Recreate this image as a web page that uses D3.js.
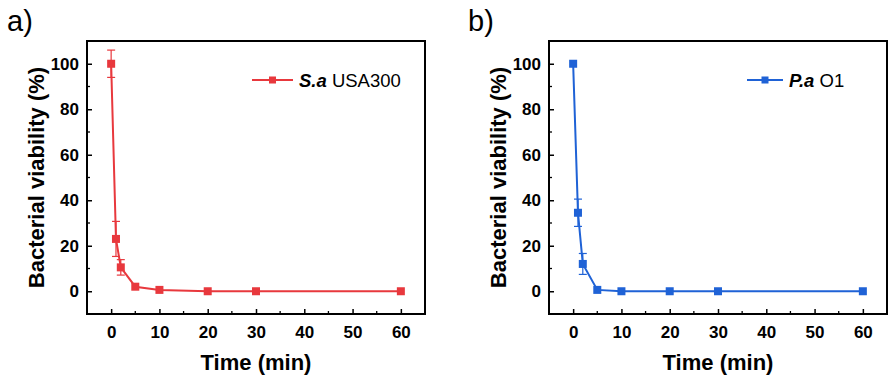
<!DOCTYPE html>
<html lang="en">
<head>
<meta charset="UTF-8">
<title>Bacterial viability vs time</title>
<style>
    body { margin: 0; background: #fff; }
    svg { display: block; font-family: "Liberation Sans", Arial, sans-serif; }
</style>
</head>
<body>
<svg width="894" height="377"></svg>
<script src="https://d3js.org/d3.v7.min.js"></script>
<script>
// time points (min)
const times = [0, 1, 2, 5, 10, 20, 30, 60];

// S. aureus USA300
const saValues = [100, 23, 10.5, 2, 0.6, 0, 0, 0];
const saErrors = [6, 7.7, 3.4, 0.4, 0.2, 0, 0, 0];

// P. aeruginosa O1
const paValues = [100, 34.5, 12, 0.6, 0, 0, 0, 0];
const paErrors = [0.5, 6, 4.6, 0.2, 0, 0, 0, 0];

const xTicks = [0, 10, 20, 30, 40, 50, 60];
const yTicks = [0, 20, 40, 60, 80, 100];

const svg = d3.select("svg");

function drawPanel(opts) {
    const g = svg.append("g").attr("transform", `translate(${opts.left},41)`);
    const w = 338, h = 273;

    const x = d3.scaleLinear().domain([-5, 65]).range([0, w]);
    const y = d3.scaleLinear().domain([-10, 110]).range([h, 0]);

    // minor ticks (inside)
    g.append("g")
        .selectAll("line.mx")
        .data(d3.range(-5, 66, 5).filter(v => v % 10 !== 0 && v > -5 && v < 65))
        .enter().append("line")
        .attr("x1", d => x(d)).attr("x2", d => x(d))
        .attr("y1", h).attr("y2", h - 3)
        .attr("stroke", "#000").attr("stroke-width", 1.3);
    g.append("g")
        .selectAll("line.my")
        .data(d3.range(-10, 111, 10).filter(v => v % 20 !== 0 && v > -10 && v < 110))
        .enter().append("line")
        .attr("x1", 0).attr("x2", 3)
        .attr("y1", d => y(d)).attr("y2", d => y(d))
        .attr("stroke", "#000").attr("stroke-width", 1.3);

    // axes
    const xAxis = g.append("g").attr("transform", `translate(0,${h})`)
        .call(d3.axisBottom(x).tickValues(xTicks).tickSizeInner(-5).tickSizeOuter(0).tickPadding(12));
    const yAxis = g.append("g")
        .call(d3.axisLeft(y).tickValues(yTicks).tickSizeInner(-5).tickSizeOuter(0).tickPadding(8));
    [xAxis, yAxis].forEach(a => {
        a.select(".domain").remove();
        a.selectAll(".tick line").attr("stroke-width", 1.5);
        a.selectAll(".tick text")
            .attr("font-family", "Liberation Sans, Arial, sans-serif")
            .attr("font-size", 17).attr("font-weight", "bold").attr("fill", "#000");
    });

    // frame
    g.append("rect").attr("width", w).attr("height", h)
        .attr("fill", "none").attr("stroke", "#000").attr("stroke-width", 2);

    // error bars
    const pts = times.map((t, i) => ({ t: t, v: opts.values[i], e: opts.errors[i] }));
    const eb = g.append("g").attr("stroke", opts.color).attr("stroke-width", 1.2);
    pts.filter(d => d.e > 1).forEach(d => {
        eb.append("line").attr("x1", x(d.t)).attr("x2", x(d.t))
            .attr("y1", y(d.v - d.e)).attr("y2", y(d.v + d.e));
        [d.v - d.e, d.v + d.e].forEach(v => {
            eb.append("line").attr("x1", x(d.t) - 4).attr("x2", x(d.t) + 4)
                .attr("y1", y(v)).attr("y2", y(v));
        });
    });

    // line
    g.append("path").datum(pts)
        .attr("fill", "none").attr("stroke", opts.color).attr("stroke-width", 2)
        .attr("d", d3.line().x(d => x(d.t)).y(d => y(d.v)));

    // markers
    g.selectAll("rect.pt").data(pts).enter().append("rect")
        .attr("class", "pt")
        .attr("x", d => x(d.t) - 4).attr("y", d => y(d.v) - 4)
        .attr("width", 8).attr("height", 8)
        .attr("fill", opts.color);

    // legend
    const lg = g.append("g").attr("transform", `translate(${opts.legendX},39)`);
    lg.append("line").attr("x1", 0).attr("x2", opts.legendLen).attr("y1", 0).attr("y2", 0)
        .attr("stroke", opts.color).attr("stroke-width", 2);
    lg.append("rect").attr("x", opts.legendLen / 2 - 3.5).attr("y", -3.5)
        .attr("width", 7).attr("height", 7).attr("fill", opts.color);
    const lt = lg.append("text").attr("x", opts.legendLen + 6).attr("y", 6.5)
        .attr("font-size", 18.5).attr("fill", "#000");
    lt.append("tspan").attr("font-weight", "bold").attr("font-style", "italic").text(opts.species);
    lt.append("tspan").text(" " + opts.strain);

    // axis titles
    g.append("text")
        .attr("transform", `translate(${opts.yTitleX},${h / 2}) rotate(-90)`)
        .attr("text-anchor", "middle")
        .attr("font-size", 22).attr("font-weight", "bold").attr("fill", "#000")
        .text("Bacterial viability (%)");
    g.append("text")
        .attr("x", x(30)).attr("y", h + 56)
        .attr("text-anchor", "middle")
        .attr("font-size", 22).attr("font-weight", "bold").attr("fill", "#000")
        .text("Time (min)");

    // panel letter
    svg.append("text").attr("x", opts.letterX).attr("y", 31)
        .attr("font-size", 29).attr("fill", "#000").text(opts.letter);
}

drawPanel({
    left: 87, values: saValues, errors: saErrors, color: "#e8383d",
    species: "S.a", strain: "USA300", legendX: 165, legendLen: 41,
    yTitleX: -43, letter: "a)", letterX: 7
});
drawPanel({
    left: 549, values: paValues, errors: paErrors, color: "#1f62d6",
    species: "P.a", strain: "O1", legendX: 198, legendLen: 36,
    yTitleX: -43, letter: "b)", letterX: 468
});
</script>
</body>
</html>
